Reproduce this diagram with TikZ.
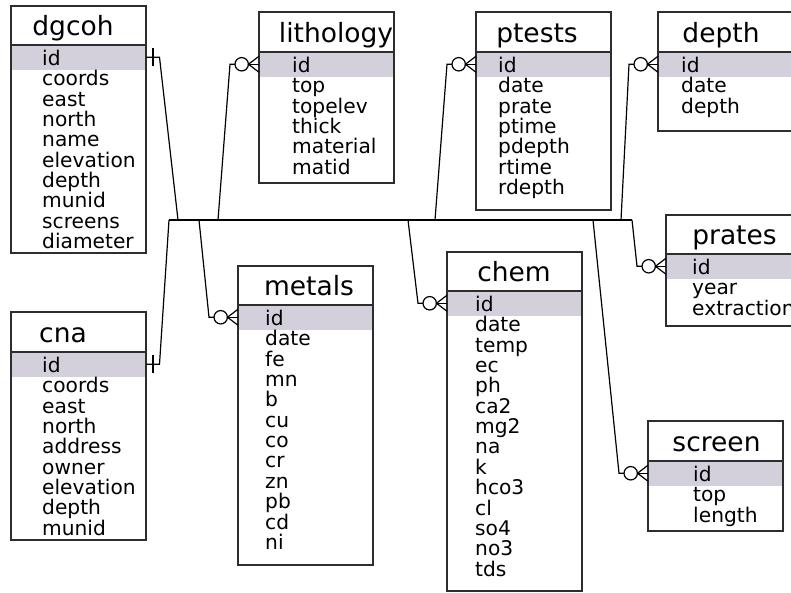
\documentclass[tikz,border=0pt]{standalone}
\usepackage{fontspec}
\setmainfont{DejaVu Sans}
\usetikzlibrary{calc}
\definecolor{hlc}{RGB}{211,208,219}
\definecolor{boxc}{RGB}{45,45,45}
\tikzset{
  boxline/.style={draw=boxc, line width=1.3pt},
  conn/.style={draw=black, line width=1.2pt, line join=miter},
  ttl/.style={anchor=base, inner sep=0pt, font=\fontsize{26.5}{27}\selectfont},
  fld/.style={anchor=base west, inner sep=0pt, font=\fontsize{20.2}{20}\selectfont},
}
% #1 name, #2 L, #3 T, #4 R, #5 B, #6 header line y, #7 title centre x, #8 field x, #9 fields
\newcommand{\ertable}[9]{%
  \fill[hlc] ({#2},{#6}) rectangle ({#4},{#6+24.5});
  \draw[boxline] ({#2},{#3}) rectangle ({#4},{#5});
  \draw[boxline] ({#2},{#6}) -- ({#4},{#6});
  \node[ttl] (#1-title) at ({#7},{#6-9.5}) {#1};
  \foreach \f [count=\i from 0] in {#9} {
    \node[fld] (#1-f\i) at ({#8},{#6+20.5+20.35*\i}) {\f};
  }
  \coordinate (#1-w) at ({#2},{#6+12.25});
  \coordinate (#1-e) at ({#4},{#6+12.25});
}
\newcommand{\oneend}[2]{%
  \draw[conn] (#1-e) -- ($(#1-e)+(13.5,0)$) -- (#2);
  \draw[conn] ($(#1-e)+(7,-9)$) -- ($(#1-e)+(7,9)$);
}
\newcommand{\manyend}[2]{%
  \draw[conn] (#2) -- ($(#1-w)+(-29,0)$) -- ($(#1-w)+(-24,0)$);
  \draw[conn] ($(#1-w)+(-17.3,0)$) circle[radius=6.7pt];
  \draw[conn] ($(#1-w)+(0,-8)$) -- ($(#1-w)+(-10.5,0)$) -- ($(#1-w)+(0,8)$);
  \draw[conn] ($(#1-w)+(-10.5,0)$) -- (#1-w);
}
\begin{document}
\begin{tikzpicture}[x=1pt,y=-1pt]
\useasboundingbox (0,0) rectangle (791,592);
\fill[white] (0,0) rectangle (791,592);

\ertable{dgcoh}{11}{6}{146}{253}{45}{73}{42}{id,coords,east,north,name,elevation,depth,munid,screens,diameter}
\ertable{cna}{11}{312}{146}{540}{352}{63}{42}{id,coords,east,north,address,owner,elevation,depth,munid}
\ertable{lithology}{259}{12}{394}{183}{52}{336}{292}{id,top,topelev,thick,material,matid}
\ertable{ptests}{476}{12}{611}{210}{52}{537}{498}{id,date,prate,ptime,pdepth,rtime,rdepth}
\ertable{depth}{658}{12}{793}{131}{52}{721}{681}{id,date,depth}
\ertable{prates}{666}{215}{801}{326}{254}{734.5}{692}{id,year,extraction}
\ertable{metals}{238}{266}{373}{565}{305}{309}{265}{id,date,fe,mn,b,cu,co,cr,zn,pb,cd,ni}
\ertable{chem}{447}{252}{582}{591}{291}{514}{475}{id,date,temp,ec,ph,ca2,mg2,na,k,hco3,cl,so4,no3,tds}
\ertable{screen}{648}{421}{783}{531}{461}{716.5}{693}{id,top,length}

\coordinate (busL) at (169,220);
\coordinate (busR) at (632,220);
\coordinate (b-dgcoh) at (178,220);
\coordinate (b-metals) at (199,220);
\coordinate (b-lithology) at (218,220);
\coordinate (b-chem) at (408,220);
\coordinate (b-ptests) at (435,220);
\coordinate (b-screen) at (593,220);
\coordinate (b-depth) at (621,220);

\draw[conn] (busL) -- (busR);
\oneend{dgcoh}{b-dgcoh}
\oneend{cna}{busL}
\manyend{lithology}{b-lithology}
\manyend{metals}{b-metals}
\manyend{ptests}{b-ptests}
\manyend{chem}{b-chem}
\manyend{depth}{b-depth}
\manyend{prates}{busR}
\manyend{screen}{b-screen}
\end{tikzpicture}
\end{document}
